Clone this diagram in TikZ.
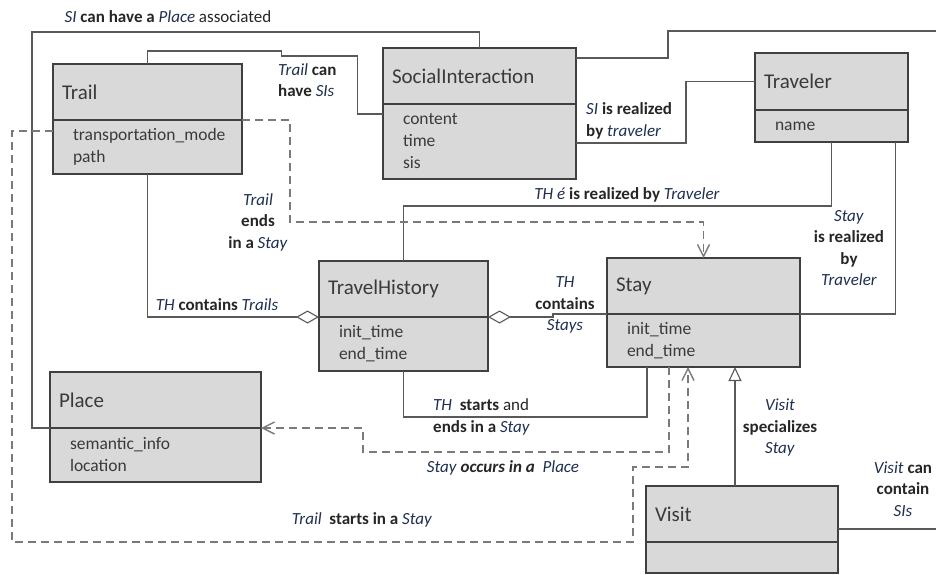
\documentclass[tikz,border=0pt]{standalone}
\usepackage{fontspec}
\setmainfont{Carlito}
\usetikzlibrary{arrows.meta,positioning,calc}
\definecolor{boxfill}{HTML}{D9D9D9}
\definecolor{boxline}{HTML}{404040}
\definecolor{wirecol}{HTML}{595959}
\definecolor{dashcol}{HTML}{7A7A7A}
\definecolor{termcol}{HTML}{1F2F4F}
\definecolor{ink}{HTML}{3A3A3A}
\hyphenpenalty=10000
\newcommand{\term}[1]{\textcolor{termcol}{\textit{#1}}}
\newcommand{\kw}[1]{\textbf{#1}}

\begin{document}
\begin{tikzpicture}[
  x=1pt, y=-1pt,
  every node/.style={font=\fontsize{17}{21.5}\selectfont},
  clshead/.style={
    draw=boxline, fill=boxfill, line width=1.3pt, outer sep=0pt,
    minimum height=56pt, inner xsep=9pt, align=left, anchor=north west,
    text=ink, font=\fontsize{21}{25}\selectfont
  },
  clsbody/.style={
    draw=boxline, fill=boxfill, line width=1.3pt, outer sep=0pt,
    inner xsep=20pt, inner ysep=4pt, align=left,
    text=ink, font=\fontsize{17.5}{22}\selectfont
  },
  lbl/.style={align=center, inner sep=0pt, text=black!85},
  wire/.style={draw=wirecol, line width=1.1pt},
  depend/.style={draw=dashcol, line width=1.4pt, dash pattern=on 8pt off 5pt},
  barb/.tip={Straight Barb[length=12pt,width=12pt]},
  agg/.tip={Diamond[open,length=23pt,width=13pt]},
  spec/.tip={Triangle[open,length=14pt,width=13pt]}
]
  \fill[white] (0,0) rectangle (936,574);
  \useasboundingbox (0,0) rectangle (936,574);

  % Classes
  \node[clshead, text width=171pt] (trail) at (53,64) {Trail};
  \node[clsbody, text width=149pt, minimum height=54pt, below=0pt of trail] (trailb)
    {transportation\_mode\\path};

  \node[clshead, text width=175pt] (si) at (383,48) {SocialInteraction};
  \node[clsbody, text width=153pt, minimum height=75pt, below=0pt of si] (sib)
    {content\\time\\sis};

  \node[clshead, text width=135pt, minimum height=57pt] (traveler) at (755,53) {Traveler};
  \node[clsbody, text width=113pt, minimum height=32pt, below=0pt of traveler] (travelerb)
    {name};

  \node[clshead, text width=151pt] (th) at (319,261) {TravelHistory};
  \node[clsbody, text width=129pt, minimum height=54pt, below=0pt of th] (thb)
    {init\_time\\end\_time};

  \node[clshead, text width=175pt] (stay) at (607,258) {Stay};
  \node[clsbody, text width=153pt, minimum height=53pt, below=0pt of stay] (stayb)
    {init\_time\\end\_time};

  \node[clshead, text width=193pt] (place) at (50,372) {Place};
  \node[clsbody, text width=171pt, minimum height=54pt, below=0pt of place] (placeb)
    {semantic\_info\\location};

  \node[clshead, text width=174pt] (visit) at (646,486) {Visit};
  \node[clsbody, text width=152pt, minimum height=31pt, below=0pt of visit] (visitb) {};

  % free ends leaving the picture on the right
  \coordinate (outsi) at (936,31);
  \coordinate (outvisit) at (936,529);
  \coordinate (specfoot) at ($(visit.north)+(-7,0)$);

  % Associations
  \draw[wire] (placeb.north west) -- ++(-18,0) |- ($(si.north)+(0,-16)$) -- (si.north);
  \draw[wire] (trail.north) -- ++(0,-13) -- ++(134,0) -- ++(0,5) -- ++(76,0)
    |- ($(sib.north west)+(0,10)$);
  \draw[wire] ($(si.north east)+(0,10)$) -- ++(92,0) -- ++(0,-27) -- (outsi);
  \draw[wire] (traveler.west) -- ++(-69,0) |- ($(sib.north east)+(0,39)$);
  \draw[wire] (th.north) -- ++(0,-55) -| (travelerb.south);
  \draw[wire] (stayb.north east) -| ($(travelerb.south)+(64,0)$);
  \draw[wire] (thb.south) -- ++(0,46) -| ($(stayb.south)+(-56.5,0)$);
  \draw[wire] ($(visit.south east)+(0,-13)$) -- (outvisit);

  % Aggregations and specialization
  \draw[wire, agg-] (thb.north west) -| (trailb.south);
  \draw[wire, agg-] (thb.north east) -- ++(65,0) |- (stayb.north west);
  \draw[wire, -spec] (specfoot) -- (specfoot |- stayb.south);

  % Dependencies
  \draw[depend, -barb] (trailb.north east) -- ++(48,0) -- ++(0,102) -| (stay.north);
  \draw[depend, barb-] (placeb.north east) -- ++(102,0) -- ++(0,24)
    -| ($(stayb.south)+(-34.5,0)$);
  \draw[depend, -barb] ($(trailb.north west)+(0,11)$) -- ++(-41,0) -- ++(0,411)
    -- ++(621,0) -- ++(0,-75) -| ($(stayb.south)+(-15.5,0)$);

  % Labels
  \node[lbl] (lblsiplace) at (168,17) {\term{SI} \kw{can have a} \term{Place} associated};
  \node[lbl, align=left, anchor=west] (lbltrailsi) at (278,80) {\term{Trail} \kw{can}\\\kw{have} \term{SIs}};
  \node[lbl, align=left, anchor=west] (lblsitrav) at (586,121) {\term{SI} \kw{is realized}\\\kw{by} \term{traveler}};
  \node[lbl] (lblthtrav) at (627,195) {\term{TH é} \kw{is realized by} \term{Traveler}};
  \node[lbl] (lblstaytrav) at (849,248) {\term{Stay}\\\kw{is realized}\\\kw{by}\\\term{Traveler}};
  \node[lbl] (lbltrailend) at (258,222) {\term{Trail}\\\kw{ends}\\\kw{in a} \term{Stay}};
  \node[lbl] (lblthtrails) at (217,305) {\term{TH} \kw{contains} \term{Trails}};
  \node[lbl] (lblthstays) at (565,305) {\term{TH}\\\kw{contains}\\\term{Stays}};
  \node[lbl, align=left, anchor=west] (lblthstart) at (433,417) {\term{TH}\ \ \kw{starts} and\\\kw{ends in a} \term{Stay}};
  \node[lbl] (lblstayplace) at (503,468) {\term{Stay} \textbf{\textit{occurs in a}}\ \ \term{Place}};
  \node[lbl] (lbltrailstart) at (362,520) {\term{Trail}\ \ \kw{starts in a} \term{Stay}};
  \node[lbl] (lblvisit) at (780,428) {\term{Visit}\\\kw{specializes}\\\term{Stay}};
  \node[lbl] (lblvisitsi) at (903,489) {\term{Visit} \kw{can}\\\kw{contain}\\\term{SIs}};

\end{tikzpicture}
\end{document}
